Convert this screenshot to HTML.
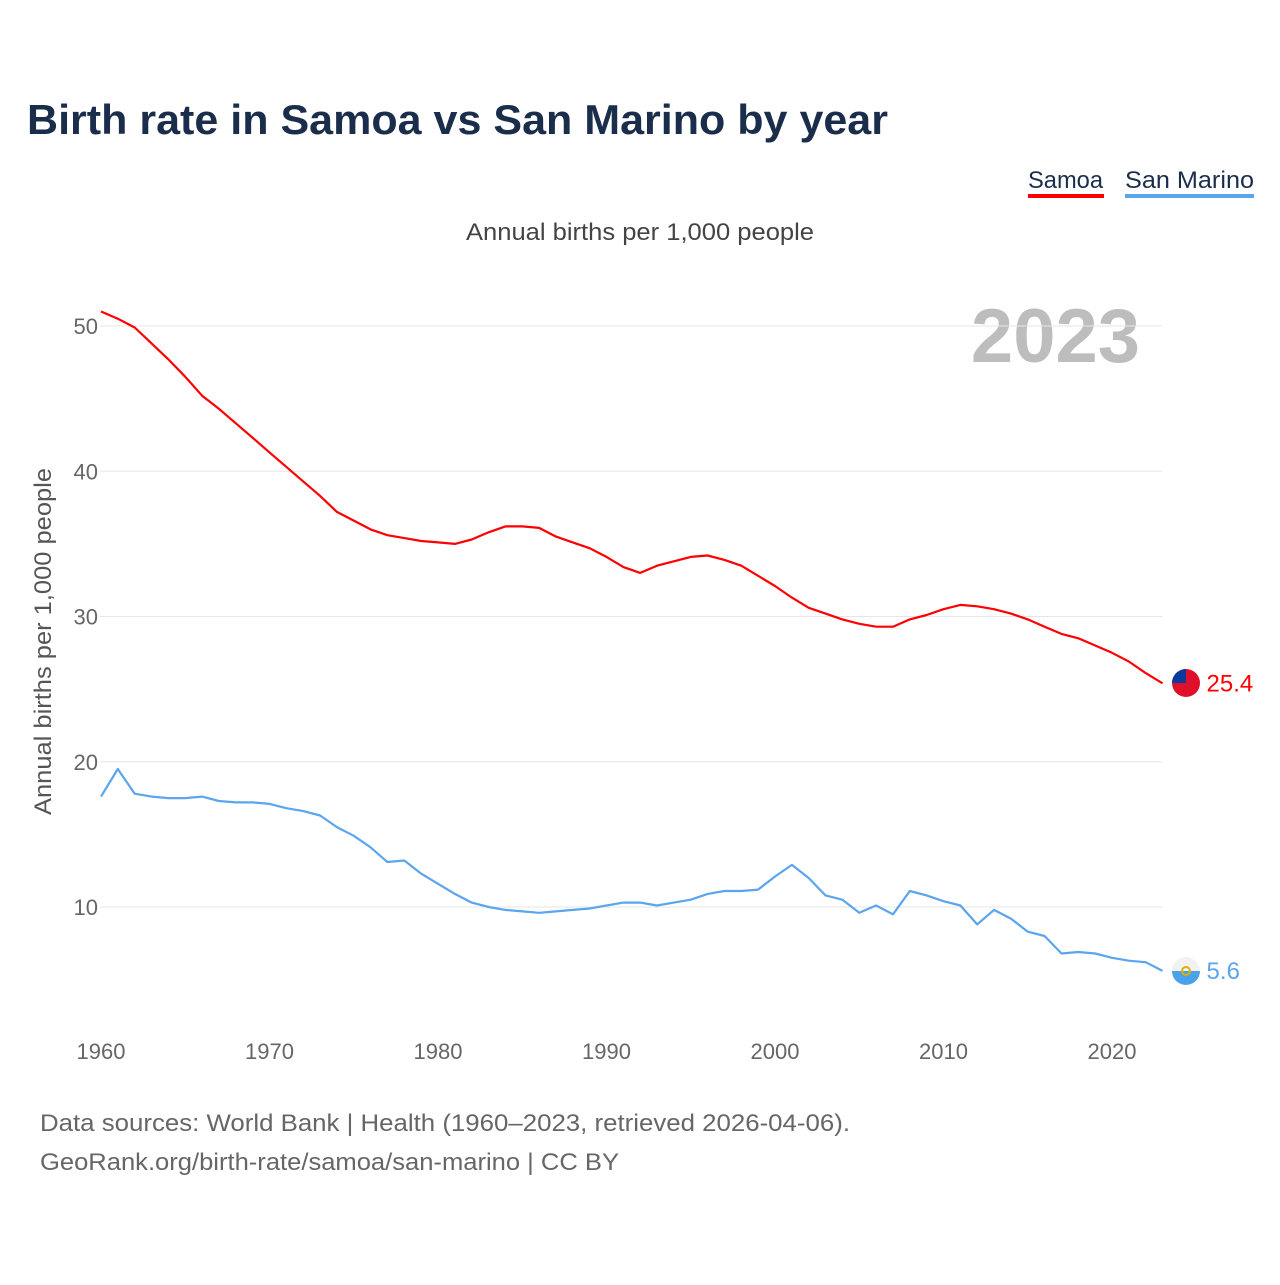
<!DOCTYPE html>
<html><head><meta charset="utf-8">
<style>
body{margin:0;background:#fff;font-family:"Liberation Sans",sans-serif;}
svg text{font-family:"Liberation Sans",sans-serif;}
</style></head>
<body>
<svg id="chart" width="1280" height="1280" xmlns="http://www.w3.org/2000/svg">
<defs>
<clipPath id="c1"><circle cx="1186" cy="683" r="14"/></clipPath>
<clipPath id="c2"><circle cx="1186" cy="971" r="14"/></clipPath>
</defs>
<text x="27" y="134" font-size="42" font-weight="bold" fill="#1a2e4c" textLength="861" lengthAdjust="spacingAndGlyphs">Birth rate in Samoa vs San Marino by year</text>
<g>
<text x="1028" y="188" font-size="24" fill="#1a2e4c" textLength="75" lengthAdjust="spacingAndGlyphs">Samoa</text>
<rect x="1028" y="194" width="76" height="4" fill="#ff0000"/>
<text x="1125" y="188" font-size="24" fill="#1a2e4c" textLength="129" lengthAdjust="spacingAndGlyphs">San Marino</text>
<rect x="1125" y="194" width="129" height="4" fill="#5aa5ee"/>
</g>
<text x="466" y="240" font-size="24" fill="#444" textLength="348" lengthAdjust="spacingAndGlyphs">Annual births per 1,000 people</text>
<text x="1140" y="362" font-size="76" font-weight="bold" fill="#bdbdbd" text-anchor="end">2023</text>
<text transform="translate(51,815) rotate(-90)" font-size="24" fill="#555" textLength="347" lengthAdjust="spacingAndGlyphs">Annual births per 1,000 people</text>
<g id="grid"></g>
<g id="series"></g>
<g clip-path="url(#c1)">
<rect x="1172" y="669" width="28" height="28" fill="#e0102a"/>
<rect x="1172" y="669" width="14" height="14" fill="#0a3a9a"/>
</g>
<g clip-path="url(#c2)">
<rect x="1172" y="957" width="28" height="14" fill="#f2f2f2"/>
<rect x="1172" y="971" width="28" height="14" fill="#4aa2ea"/>
<circle cx="1186" cy="971" r="4" fill="none" stroke="#e0b000" stroke-width="2"/>
</g>
<text x="40" y="1131" font-size="24" fill="#666" textLength="810" lengthAdjust="spacingAndGlyphs">Data sources: World Bank | Health (1960–2023, retrieved 2026-04-06).</text>
<text x="40" y="1170" font-size="24" fill="#666" textLength="579" lengthAdjust="spacingAndGlyphs">GeoRank.org/birth-rate/samoa/san-marino | CC BY</text>
</svg>
<script>
const years=[];for(let y=1960;y<=2023;y++)years.push(y);
const samoa=[51.0,50.5,49.9,48.8,47.7,46.5,45.2,44.3,43.3,42.3,41.3,40.3,39.3,38.3,37.2,36.6,36.0,35.6,35.4,35.2,35.1,35.0,35.3,35.8,36.2,36.2,36.1,35.5,35.1,34.7,34.1,33.4,33.0,33.5,33.8,34.1,34.2,33.9,33.5,32.8,32.1,31.3,30.6,30.2,29.8,29.5,29.3,29.3,29.8,30.1,30.5,30.8,30.7,30.5,30.2,29.8,29.3,28.8,28.5,28.0,27.5,26.9,26.1,25.4];
const sanMarino=[17.6,19.5,17.8,17.6,17.5,17.5,17.6,17.3,17.2,17.2,17.1,16.8,16.6,16.3,15.5,14.9,14.1,13.1,13.2,12.3,11.6,10.9,10.3,10.0,9.8,9.7,9.6,9.7,9.8,9.9,10.1,10.3,10.3,10.1,10.3,10.5,10.9,11.1,11.1,11.2,12.1,12.9,12.0,10.8,10.5,9.6,10.1,9.5,11.1,10.8,10.4,10.1,8.8,9.8,9.2,8.3,8.0,6.8,6.9,6.8,6.5,6.3,6.2,5.6];
const yTicks=[10,20,30,40,50];
const xTicks=[1960,1970,1980,1990,2000,2010,2020];
const NS="http://www.w3.org/2000/svg";
const xs=y=>101+(y-1960)*(1112-101)/60;
const ys=v=>907-(v-10)*(907-326)/40;
function mk(tag,attrs,parent){const e=document.createElementNS(NS,tag);for(const k in attrs)e.setAttribute(k,attrs[k]);parent.appendChild(e);return e;}
const grid=document.getElementById('grid'),series=document.getElementById('series');
yTicks.forEach(t=>{
 const l=mk('line',{x1:100,x2:1162,y1:ys(t),y2:ys(t),stroke:'#e6e6e6','stroke-width':1},grid);
 
 
 const tx=mk('text',{x:98,y:ys(t)+8,'font-size':22,fill:'#666','text-anchor':'end'},grid);tx.textContent=t;
 
 
});
xTicks.forEach(t=>{
 const tx=mk('text',{x:xs(t),y:1059,'font-size':22,fill:'#666','text-anchor':'middle'},grid);tx.textContent=t;
 
 
});
function line(vals,color,name){
 const d=vals.map((v,i)=>(i?'L':'M')+xs(years[i]).toFixed(1)+' '+ys(v).toFixed(1)).join(' ');
 const p=mk('path',{d:d,fill:'none',stroke:color,'stroke-width':2.2,'stroke-linejoin':'round'},series);
 
 
 const last=vals[vals.length-1],lx=xs(years[years.length-1]),ly=ys(last);
 const t=mk('text',{x:lx+44,y:ly+8,'font-size':24,fill:color},series);t.textContent=last.toFixed(1);
 
 
}
line(samoa,'#ff0000','samoa');
line(sanMarino,'#5aa5ee','san-marino');
</script>
</body></html>
